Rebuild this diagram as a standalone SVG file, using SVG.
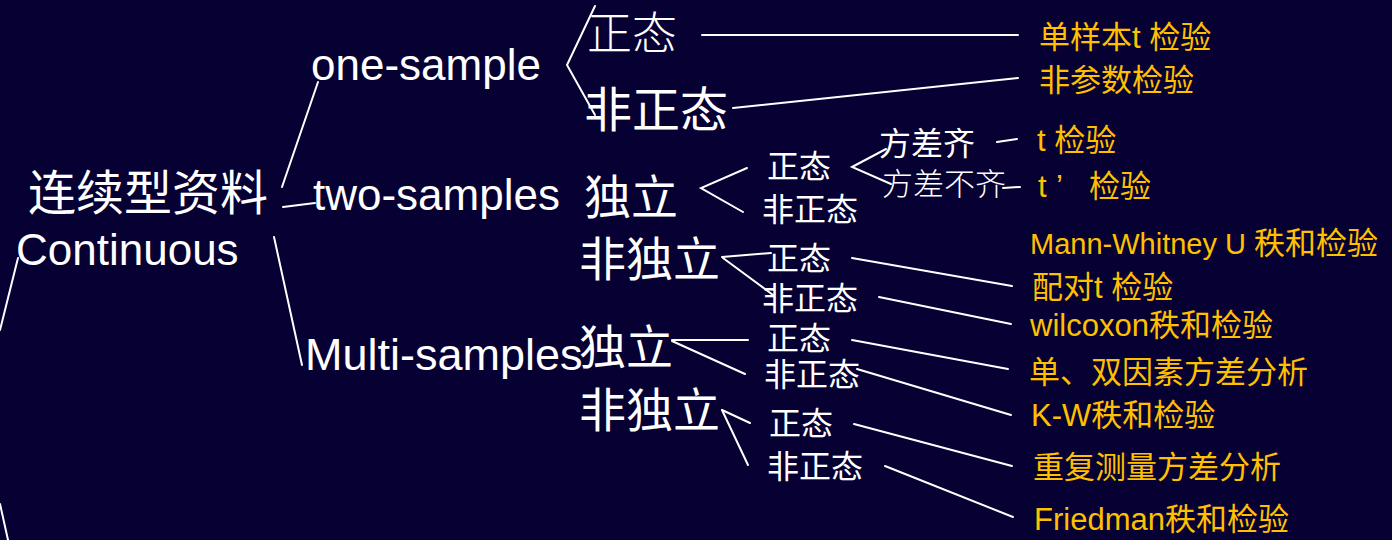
<svg xmlns="http://www.w3.org/2000/svg" width="1392" height="540" viewBox="0 0 1392 540">
<style>
.t{font-family:"Liberation Sans","Noto Sans CJK SC",sans-serif;fill:#ffffff}
.big{font-size:44px}
.cj{font-family:"Noto Sans CJK SC","Liberation Sans",sans-serif;fill:#ffffff}
.thin{font-weight:300}
.y{font-family:"Liberation Sans","Noto Sans CJK SC",sans-serif;fill:#ffc000;font-size:31px}
.ln{stroke:#ffffff;stroke-width:2;fill:none;stroke-linecap:round}
</style>
<rect x="0" y="0" width="1392" height="540" fill="#060033"/>
<g id="connectors" class="ln">
<line x1="18" y1="258" x2="0" y2="330"/>
<line x1="0" y1="504" x2="8" y2="540"/>
<line x1="282" y1="187" x2="318" y2="82"/>
<line x1="283" y1="207" x2="315" y2="203"/>
<line x1="274" y1="237" x2="302" y2="365"/>
<polyline points="595,6 567,65 595,115"/>
<line x1="702" y1="35" x2="1018" y2="35"/>
<line x1="733" y1="108" x2="1018" y2="78"/>
<polyline points="747,168 701,188 743,212"/>
<polyline points="886,149 852,167 891,184"/>
<line x1="997" y1="142" x2="1017" y2="139"/>
<line x1="1003" y1="188" x2="1020" y2="187"/>
<line x1="722" y1="257" x2="771" y2="253"/>
<line x1="723" y1="258" x2="773" y2="295"/>
<line x1="852" y1="258" x2="1012" y2="286"/>
<line x1="879" y1="297" x2="1011" y2="324"/>
<line x1="672" y1="340" x2="748" y2="340"/>
<line x1="672" y1="341" x2="745" y2="374"/>
<line x1="852" y1="340" x2="1008" y2="369"/>
<line x1="857" y1="369" x2="1011" y2="415"/>
<line x1="722" y1="410" x2="750" y2="423"/>
<line x1="722" y1="410" x2="748" y2="465"/>
<line x1="854" y1="424" x2="1012" y2="466"/>
<line x1="885" y1="466" x2="1013" y2="517"/>
</g>
<g id="root">
<text class="cj" x="28" y="210" font-size="48">连续型资料</text>
<text class="t big" x="16" y="265">Continuous</text>
</g>
<g id="one-sample"><text class="t big" x="311" y="80">one-sample</text></g>
<g id="two-samples"><text class="t big" x="313" y="210">two-samples</text></g>
<g id="multi-samples"><text class="t" x="305" y="370" font-size="45">Multi-samples</text></g>
<g id="one-normal"><text class="cj thin" x="587" y="50" font-size="45">正态</text></g>
<g id="one-nonnormal"><text class="cj" x="584" y="127" font-size="48">非正态</text></g>
<g id="two-indep"><text class="cj" x="584" y="214" font-size="47">独立</text></g>
<g id="two-dep"><text class="cj" x="579" y="276" font-size="47">非独立</text></g>
<g id="multi-indep"><text class="cj" x="579" y="364" font-size="47">独立</text></g>
<g id="multi-dep"><text class="cj" x="579" y="427" font-size="47">非独立</text></g>
<g id="two-indep-normal"><text class="cj" x="767" y="178" font-size="32">正态</text></g>
<g id="two-indep-nonnormal"><text class="cj" x="762" y="221" font-size="32">非正态</text></g>
<g id="var-equal"><text class="cj" x="879" y="155" font-size="32">方差齐</text></g>
<g id="var-unequal"><text class="cj thin" x="882" y="195" font-size="31">方差不齐</text></g>
<g id="two-dep-normal"><text class="cj" x="767" y="270" font-size="32">正态</text></g>
<g id="two-dep-nonnormal"><text class="cj" x="762" y="310" font-size="32">非正态</text></g>
<g id="multi-indep-normal"><text class="cj" x="767" y="350" font-size="32">正态</text></g>
<g id="multi-indep-nonnormal"><text class="cj" x="764" y="386" font-size="32">非正态</text></g>
<g id="multi-dep-normal"><text class="cj" x="769" y="435" font-size="32">正态</text></g>
<g id="multi-dep-nonnormal"><text class="cj" x="767" y="478" font-size="32">非正态</text></g>
<g id="r1"><text class="y" x="1039" y="48">单样本t 检验</text></g>
<g id="r2"><text class="y" x="1039" y="91">非参数检验</text></g>
<g id="r3"><text class="y" x="1037" y="151">t 检验</text></g>
<g id="r4"><text class="y" x="1038" y="197">t<tspan x="1056">’</tspan><tspan x="1089">检验</tspan></text></g>
<g id="r5"><text class="y" x="1030" y="254"><tspan font-size="29">Mann-Whitney U </tspan>秩和检验</text></g>
<g id="r6"><text class="y" x="1032" y="298">配对t 检验</text></g>
<g id="r7"><text class="y" x="1030" y="336">wilcoxon秩和检验</text></g>
<g id="r8"><text class="y" x="1029" y="383">单、双因素方差分析</text></g>
<g id="r9"><text class="y" x="1031" y="426">K-W秩和检验</text></g>
<g id="r10"><text class="y" x="1033" y="478">重复测量方差分析</text></g>
<g id="r11"><text class="y" x="1034" y="530">Friedman秩和检验</text></g>
</svg>
